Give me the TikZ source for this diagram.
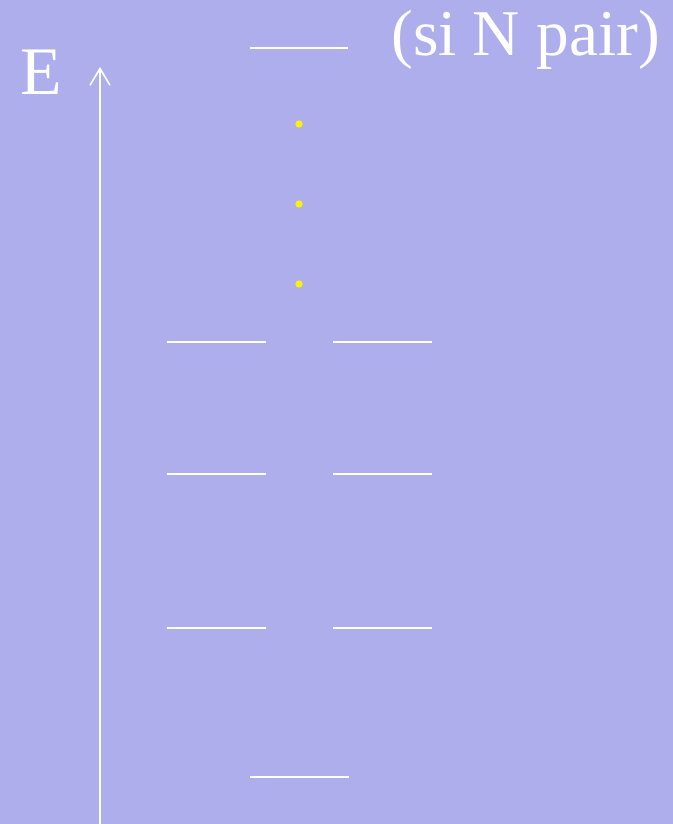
\documentclass[tikz,border=0pt]{standalone}
\usepackage{fontspec}
\setmainfont{Liberation Serif}
\usetikzlibrary{arrows.meta}
\definecolor{slidebg}{RGB}{174,174,236}
\begin{document}
\begin{tikzpicture}[x=0.75pt,y=-0.75pt,
    level line/.style={draw=white,line width=1.6pt},
    axis line/.style={draw=white,line width=1.5pt,-{Straight Barb[length=12.5pt,width=15pt,line width=1.2pt]}},
    dot node/.style={circle,fill=yellow,inner sep=0pt,minimum size=5.5pt},
    big label/.style={text=white,inner sep=0pt,font=\fontsize{51}{60}\selectfont} ]
    \useasboundingbox (0,0) rectangle (673,824);
    \fill[slidebg] (0,0) rectangle (673,824);
    % energy axis
    \coordinate (axis bottom) at (100,826);
    \coordinate (axis top) at (100,67);
    \draw [axis line] (axis bottom) to (axis top);
    \node at (41,94) [big label,anchor=base] (E) {E};
    \node at (391,56) [big label,anchor=base west,font=\fontsize{49}{56}\selectfont] (pair) {(si N pair)};
    % levels
    \draw [level line] (250,48) -- (348,48);
    \draw [level line] (167,342) -- (266,342);
    \draw [level line] (333,342) -- (432,342);
    \draw [level line] (167,474) -- (266,474);
    \draw [level line] (333,474) -- (432,474);
    \draw [level line] (167,628) -- (266,628);
    \draw [level line] (333,628) -- (432,628);
    \draw [level line] (250,777) -- (349,777);
    % dots
    \node at (299,124) [dot node] (d1) {};
    \node at (299,204) [dot node] (d2) {};
    \node at (299,284) [dot node] (d3) {};
\end{tikzpicture}
\end{document}
